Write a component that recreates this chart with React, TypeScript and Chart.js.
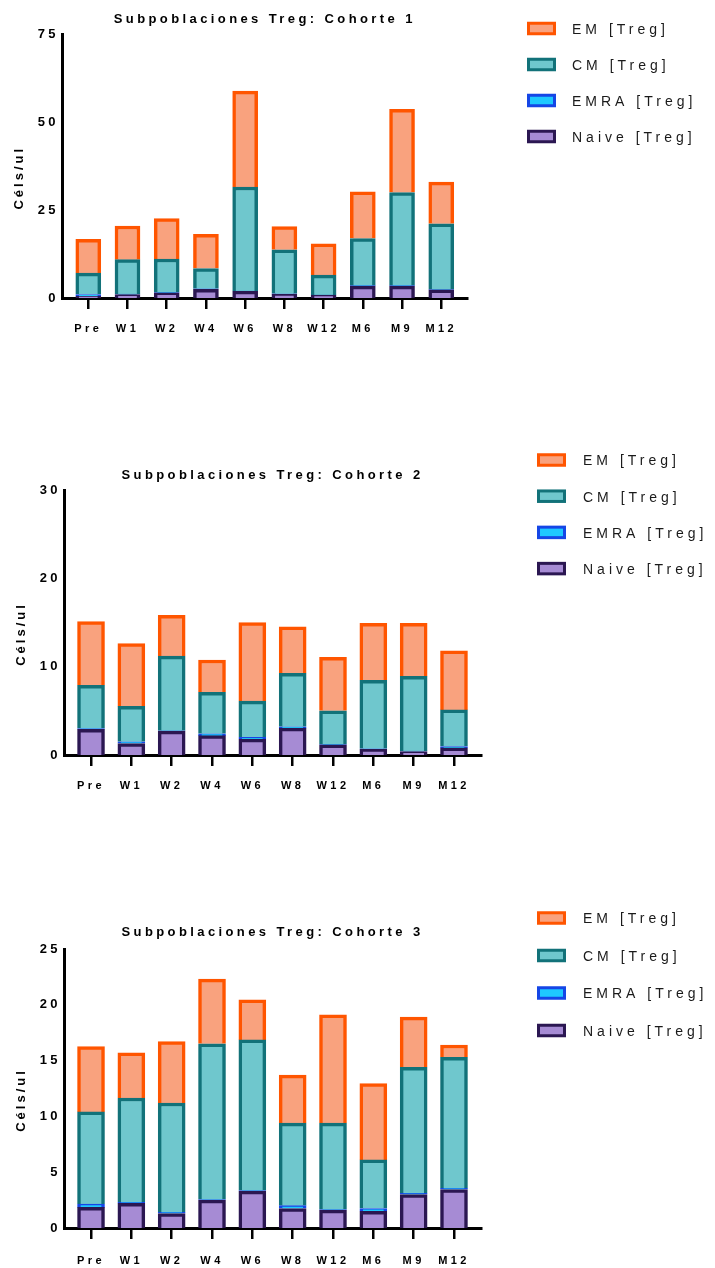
import React, { useEffect, useRef } from "react";
import { Chart, registerables } from "chart.js";

Chart.register(...registerables);

// ---------- data ----------
const categories = ["Pre", "W1", "W2", "W4", "W6", "W8", "W12", "M6", "M9", "M12"];
const seriesLabels = ["Naive [Treg]", "EMRA [Treg]", "CM [Treg]", "EM [Treg]"];
const chartTitles = [
  "Subpoblaciones Treg: Cohorte 1",
  "Subpoblaciones Treg: Cohorte 2",
  "Subpoblaciones Treg: Cohorte 3",
];
const yAxisTitle = "Céls/ul";

// Cohorte 1 (stacked segment values)
const c1Naive = [0.5, 1.0, 1.5, 2.5, 1.9, 1.1, 0.8, 3.4, 3.4, 2.3];
const c1Emra = [0.5, 0.1, 0.1, 0.1, 0.1, 0.1, 0.05, 0.1, 0.1, 0.1];
const c1Cm = [6.1, 9.8, 9.5, 5.8, 29.6, 12.5, 5.65, 13.4, 26.5, 18.7];
const c1Em = [9.6, 9.6, 11.5, 9.7, 27.3, 6.6, 8.9, 13.3, 23.7, 11.9];

// Cohorte 2
const c2Naive = [2.9, 1.3, 2.7, 2.2, 1.8, 3.05, 1.15, 0.65, 0.4, 0.8];
const c2Emra = [0.1, 0.2, 0.05, 0.2, 0.2, 0.15, 0.05, 0.05, 0.05, 0.15];
const c2Cm = [4.9, 4.0, 8.45, 4.7, 4.1, 6.05, 3.8, 7.75, 8.45, 4.15];
const c2Em = [7.2, 7.1, 4.6, 3.65, 8.9, 5.25, 6.05, 6.45, 6.0, 6.7];

// Cohorte 3
const c3Naive = [1.85, 2.2, 1.3, 2.5, 3.3, 1.75, 1.6, 1.5, 3.0, 3.45];
const c3Emra = [0.3, 0.1, 0.1, 0.05, 0.05, 0.25, 0.05, 0.25, 0.1, 0.1];
const c3Cm = [8.25, 9.35, 9.8, 13.95, 13.5, 7.4, 7.75, 4.35, 11.3, 11.75];
const c3Em = [5.85, 4.05, 5.5, 5.8, 3.6, 4.3, 9.7, 6.85, 4.5, 1.1];

const yMaxes = [75, 30, 25];
const ySteps = [25, 10, 5];

const cohorts = [
  [c1Naive, c1Emra, c1Cm, c1Em],
  [c2Naive, c2Emra, c2Cm, c2Em],
  [c3Naive, c3Emra, c3Cm, c3Em],
];

// ---------- styles ----------
const FONT = "'Liberation Sans', Arial, Helvetica, sans-serif";
const fillColors = ["#a68bd4", "#1ec8ff", "#6fc7cd", "#f9a27e"];
const borderColors = ["#2b1752", "#1546e6", "#127279", "#ff5500"];

// page-coordinate layout for each panel
const layouts = [
  {
    canvasTop: 0, canvasH: 350, left: 62, top: 34.5, bottom: 298, spacing: 39.22,
    titleY: 19, yTitleX: 19, bar: 25, xLabelOffset: 31,
    legendBoxX: 527, legendTextX: 572, legendY0: 28.5, legendStep: 36,
  },
  {
    canvasTop: 440, canvasH: 360, left: 64, top: 490, bottom: 755, spacing: 40.33,
    titleY: 475.5, yTitleX: 21, bar: 27, xLabelOffset: 30.5,
    legendBoxX: 537, legendTextX: 583, legendY0: 460, legendStep: 36.2,
  },
  {
    canvasTop: 895, canvasH: 373, left: 64, top: 949, bottom: 1228, spacing: 40.33,
    titleY: 932, yTitleX: 21, bar: 27, xLabelOffset: 33,
    legendBoxX: 537, legendTextX: 583, legendY0: 918, legendStep: 37.5,
  },
];

const X_PAD = 0.67;

function ChartPanel({ idx }: { idx: number }) {
  const ref = useRef<HTMLCanvasElement | null>(null);
  const L = layouts[idx];

  useEffect(() => {
    const canvas = ref.current;
    if (!canvas) return;
    const right = L.left + (9 + 2 * X_PAD) * L.spacing;
    const titleLH = 13 * 1.2;
    const padTop = L.titleY - L.canvasTop - titleLH / 2;
    const padBottom = L.top - L.canvasTop - titleLH - padTop;
    const tickLen = 11;
    const xLabelPad = L.xLabelOffset - tickLen - (11 * 1.2) / 2;

    const spacingPlugin = {
      id: "spacing",
      beforeDraw(chart: any) {
        (chart.ctx as any).letterSpacing = "3.4px";
      },
    };

    const decorPlugin = {
      id: "decor",
      afterDraw(chart: any) {
        const ctx = chart.ctx as any;
        // y axis title
        ctx.save();
        ctx.letterSpacing = "3px";
        ctx.font = `bold 13px ${FONT}`;
        ctx.fillStyle = "#000";
        const cy = (L.top + L.bottom) / 2 + 13 - L.canvasTop;
        ctx.translate(L.yTitleX, cy);
        ctx.rotate(-Math.PI / 2);
        ctx.textAlign = "left";
        ctx.textBaseline = "middle";
        const w = ctx.measureText(yAxisTitle).width - 3;
        ctx.fillText(yAxisTitle, -w / 2, 0);
        ctx.restore();

        // legend (top-most series first)
        ctx.save();
        ctx.letterSpacing = "4px";
        ctx.font = `14px ${FONT}`;
        ctx.textAlign = "left";
        ctx.textBaseline = "middle";
        const ds = chart.data.datasets;
        const order = ds.map((_: any, i: number) => i).reverse();
        order.forEach((di: number, row: number) => {
          const d = ds[di];
          const cyr = L.legendY0 + row * L.legendStep - L.canvasTop;
          const bw = 29, bh = 13.5, b = 3;
          ctx.fillStyle = d.borderColor;
          ctx.fillRect(L.legendBoxX, cyr - bh / 2, bw, bh);
          ctx.fillStyle = d.backgroundColor;
          ctx.fillRect(L.legendBoxX + b, cyr - bh / 2 + b, bw - 2 * b, bh - 2 * b);
          ctx.fillStyle = "#1a1a1a";
          ctx.fillText(d.label, L.legendTextX, cyr + 1.5);
        });
        ctx.restore();
      },
    };

    const series = cohorts[idx];
    const chart = new Chart(canvas, {
      type: "bar",
      data: {
        datasets: series.map((vals, k) => ({
          label: seriesLabels[k],
          data: vals.map((v, i) => ({ x: i, y: v })),
          backgroundColor: fillColors[k],
          borderColor: borderColors[k],
          borderWidth: 3.5,
          borderSkipped: "bottom",
          barThickness: L.bar,
        })),
      } as any,
      options: {
        responsive: false,
        animation: false,
        devicePixelRatio: 1,
        layout: { padding: { left: 0, top: 0, bottom: 0, right: 715 - right } },
        plugins: {
          legend: { display: false },
          tooltip: { enabled: false },
          title: {
            display: true,
            text: chartTitles[idx],
            fullSize: false,
            color: "#000",
            font: { family: FONT, size: 13, weight: "bold", lineHeight: 1.2 },
            padding: { top: padTop, bottom: padBottom },
          },
        },
        scales: {
          x: {
            type: "linear",
            stacked: true,
            offset: false,
            min: -X_PAD,
            max: 9 + X_PAD,
            afterFit: (s: any) => {
              s.height = L.canvasH - (L.bottom - L.canvasTop);
            },
            afterBuildTicks: (s: any) => {
              s.ticks = categories.map((_, i) => ({ value: i }));
            },
            ticks: {
              autoSkip: false,
              maxRotation: 0,
              minRotation: 0,
              padding: xLabelPad,
              color: "#000",
              font: { family: FONT, size: 11, weight: "bold", lineHeight: 1.2 },
              callback: (v: any) => categories[v] ?? "",
            },
            grid: {
              display: true,
              offset: false,
              drawOnChartArea: false,
              drawTicks: true,
              tickLength: tickLen,
              lineWidth: 2.5,
              color: "#000",
            },
            border: { display: true, width: 3, color: "#000" },
          },
          y: {
            stacked: true,
            min: 0,
            max: yMaxes[idx],
            afterFit: (s: any) => {
              s.width = L.left;
            },
            ticks: {
              stepSize: ySteps[idx],
              padding: 3,
              color: "#000",
              font: { family: FONT, size: 13, weight: "bold" },
            },
            grid: { display: false, drawTicks: false, tickLength: 0 },
            border: { display: true, width: 3, color: "#000" },
          },
        },
      } as any,
      plugins: [spacingPlugin, decorPlugin],
    });
    return () => chart.destroy();
  }, [idx]);

  return (
    <canvas
      ref={ref}
      width={715}
      height={L.canvasH}
      style={{ position: "absolute", left: 0, top: L.canvasTop, width: 715, height: L.canvasH }}
    />
  );
}

export default function App() {
  return (
    <div
      style={{
        position: "absolute",
        left: 0,
        top: 0,
        width: 715,
        height: 1268,
        background: "#fff",
        overflow: "hidden",
      }}
    >
      <ChartPanel idx={0} />
      <ChartPanel idx={1} />
      <ChartPanel idx={2} />
    </div>
  );
}
